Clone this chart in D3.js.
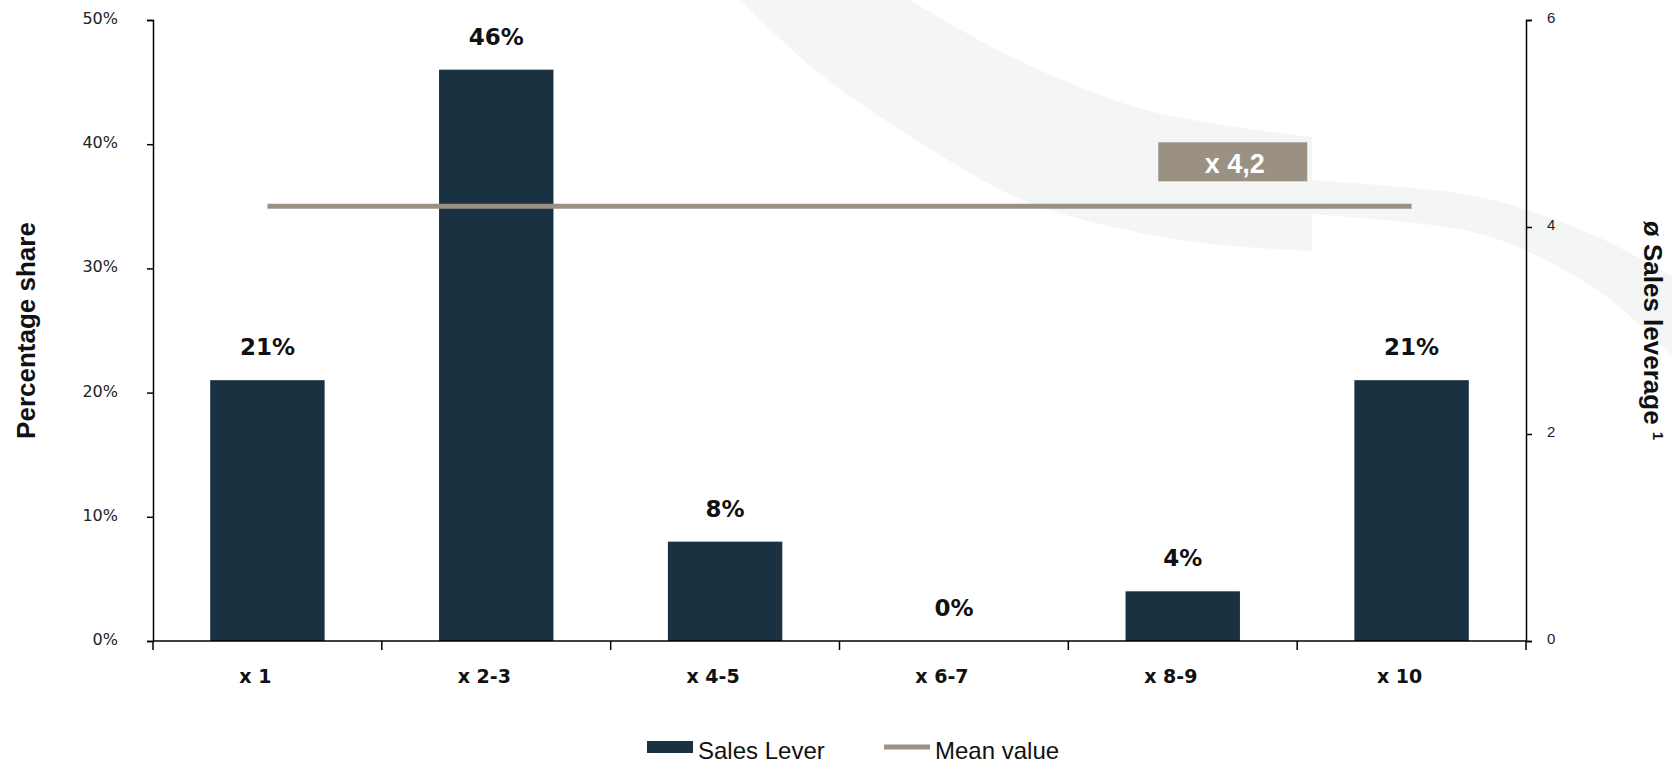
<!DOCTYPE html>
<html>
<head>
<meta charset="utf-8">
<script src="https://cdn.jsdelivr.net/npm/d3@7"></script>
<style>
  html, body { margin: 0; padding: 0; background: #ffffff; }
  svg { display: block; }
</style>
</head>
<body>
<svg id="chart" width="1672" height="764"></svg>
<script>
// ---- data ----
const categories = ["x 1", "x 2-3", "x 4-5", "x 6-7", "x 8-9", "x 10"];
const salesLever = [21, 46, 8, 0, 4, 21];           // percentage share
const meanValue = 4.2;                               // ø sales leverage
const meanLabel = "x 4,2";
const leftTicks = [0, 10, 20, 30, 40, 50];
const leftTickLabels = ["0%", "10%", "20%", "30%", "40%", "50%"];
const rightTicks = [0, 2, 4, 6];
const seriesNames = ["Sales Lever", "Mean value"];

(function () {
// ---- styles ----
const NAVY = "#1a3142";
const TAUPE = "#9a9183";
const SWOOSH = "#f4f6f5";

const svg = d3.select("#chart");
const pL = 153, pR = 1526, pT = 20, pB = 641;

const x = d3.scaleBand().domain(categories).range([pL, pR])
  .paddingInner(0.5).paddingOuter(0.25);
const yL = d3.scaleLinear().domain([0, 50]).range([pB, pT]);
const yR = d3.scaleLinear().domain([0, 6]).range([pB, pT]);

// ---- decorative background swoosh ----
const lineGen = d3.line().curve(d3.curveCatmullRom.alpha(0.5));
const outerA = [[741, 0], [815, 70], [940, 155], [1030, 203], [1180, 240], [1312, 251]];
const innerA = [[1312, 137], [1146, 110], [1012, 57], [910, 0]];
svg.append("path")
  .attr("d", lineGen(outerA) + "L" + lineGen(innerA).slice(1) + "Z")
  .attr("fill", SWOOSH);
const topB = [[1312, 180], [1432, 190], [1480, 197], [1527, 210], [1600, 238], [1672, 276]];
const botB = [[1672, 355], [1600, 292], [1527, 251], [1480, 234], [1432, 225], [1312, 214]];
svg.append("path")
  .attr("d", lineGen(topB) + "L" + lineGen(botB).slice(1) + "Z")
  .attr("fill", SWOOSH);

// ---- bars ----
svg.append("g").selectAll("rect")
  .data(salesLever)
  .join("rect")
  .attr("x", (d, i) => x(categories[i]))
  .attr("y", d => yL(d))
  .attr("width", x.bandwidth())
  .attr("height", d => yL(0) - yL(d))
  .attr("fill", NAVY);

// ---- value labels ----
svg.append("g").selectAll("text")
  .data(salesLever)
  .join("text")
  .attr("x", (d, i) => x(categories[i]) + x.bandwidth() / 2)
  .attr("y", d => yL(d) - 25)
  .attr("text-anchor", "middle")
  .attr("font-family", "DejaVu Sans, sans-serif")
  .attr("font-weight", "bold")
  .attr("font-size", 23)
  .attr("fill", "#111")
  .text(d => d + "%");

// ---- mean line ----
const first = categories[0], last = categories[categories.length - 1];
svg.append("line")
  .attr("x1", x(first) + x.bandwidth() / 2)
  .attr("x2", x(last) + x.bandwidth() / 2)
  .attr("y1", yR(meanValue))
  .attr("y2", yR(meanValue))
  .attr("stroke", TAUPE)
  .attr("stroke-width", 5);

// ---- mean annotation box ----
const boxCx = x(categories[4]) + x.bandwidth() / 2 + 50;
const boxW = 149, boxH = 39;
const boxBottom = yR(meanValue) - 25;
svg.append("rect")
  .attr("x", boxCx - boxW / 2)
  .attr("y", boxBottom - boxH)
  .attr("width", boxW)
  .attr("height", boxH)
  .attr("fill", TAUPE);
svg.append("text")
  .attr("x", boxCx + 2)
  .attr("y", boxBottom - 8)
  .attr("text-anchor", "middle")
  .attr("font-family", "Liberation Sans, Arial, sans-serif")
  .attr("font-weight", "bold")
  .attr("font-size", 27)
  .attr("fill", "#ffffff")
  .text(meanLabel);

// ---- left axis ----
const axL = svg.append("g").attr("transform", `translate(${pL},0)`)
  .call(d3.axisLeft(yL).tickValues(leftTicks).tickSize(6).tickPadding(29)
    .tickFormat((d, i) => leftTickLabels[i]));
axL.select(".domain").attr("stroke", "#000").attr("stroke-width", 1.5);
axL.selectAll(".tick line").attr("stroke", "#000").attr("stroke-width", 1.5);
axL.selectAll(".tick text")
  .attr("dy", 3.4)
  .attr("font-family", "DejaVu Sans, sans-serif")
  .attr("font-size", 16)
  .attr("fill", "#222");

// ---- right axis ----
const axR = svg.append("g").attr("transform", `translate(${pR},0)`)
  .call(d3.axisRight(yR).tickValues(rightTicks).tickSize(6).tickPadding(15)
    .tickFormat(d3.format("d")));
axR.select(".domain").attr("stroke", "#000").attr("stroke-width", 1.5);
axR.selectAll(".tick line").attr("stroke", "#000").attr("stroke-width", 1.5);
axR.selectAll(".tick text")
  .attr("dy", 2.5)
  .attr("font-family", "Liberation Sans, Arial, sans-serif")
  .attr("font-size", 15)
  .attr("fill", "#222");

// ---- bottom axis ----
const axB = svg.append("g").attr("transform", `translate(0,${pB})`)
  .call(d3.axisBottom(x).tickSize(0).tickPadding(0));
axB.select(".domain").remove();
axB.selectAll(".tick text")
  .attr("y", 42)
  .attr("dy", 0)
  .attr("dx", -12)
  .attr("font-family", "DejaVu Sans, sans-serif")
  .attr("font-weight", "bold")
  .attr("font-size", 19)
  .attr("fill", "#111");
const boundaries = categories.map(c => x(c) - x.step() * x.paddingInner() / 2)
  .concat([x(last) + x.bandwidth() + x.step() * x.paddingInner() / 2]);
axB.append("line")
  .attr("x1", pL).attr("x2", pR).attr("y1", 0).attr("y2", 0)
  .attr("stroke", "#000").attr("stroke-width", 1.5);
axB.selectAll(".bnd").data(boundaries).join("line")
  .attr("class", "bnd")
  .attr("x1", d => d).attr("x2", d => d)
  .attr("y1", 0).attr("y2", 9)
  .attr("stroke", "#000").attr("stroke-width", 1.5);

// ---- axis titles ----
svg.append("text")
  .attr("transform", `translate(35,${(pT + pB) / 2}) rotate(-90)`)
  .attr("text-anchor", "middle")
  .attr("font-family", "Liberation Sans, Arial, sans-serif")
  .attr("font-weight", "bold")
  .attr("font-size", 26)
  .attr("fill", "#111")
  .text("Percentage share");

const rt = svg.append("text")
  .attr("transform", `translate(1644,${(pT + pB) / 2}) rotate(90)`)
  .attr("text-anchor", "middle")
  .attr("font-family", "Liberation Sans, Arial, sans-serif")
  .attr("font-weight", "bold")
  .attr("font-size", 26)
  .attr("fill", "#111");
rt.append("tspan").text("ø Sales leverage ");
rt.append("tspan").attr("dy", -9).attr("font-size", 15).text("1");

// ---- legend ----
const lg = svg.append("g");
lg.append("rect").attr("x", 647).attr("y", 741).attr("width", 46).attr("height", 12).attr("fill", NAVY);
lg.append("text").attr("x", 698).attr("y", 759)
  .attr("font-family", "Liberation Sans, Arial, sans-serif").attr("font-size", 24).attr("fill", "#111")
  .text(seriesNames[0]);
lg.append("line").attr("x1", 884).attr("x2", 930).attr("y1", 747).attr("y2", 747)
  .attr("stroke", TAUPE).attr("stroke-width", 5);
lg.append("text").attr("x", 935).attr("y", 759)
  .attr("font-family", "Liberation Sans, Arial, sans-serif").attr("font-size", 24).attr("fill", "#111")
  .text(seriesNames[1]);
})();
</script>
</body>
</html>
